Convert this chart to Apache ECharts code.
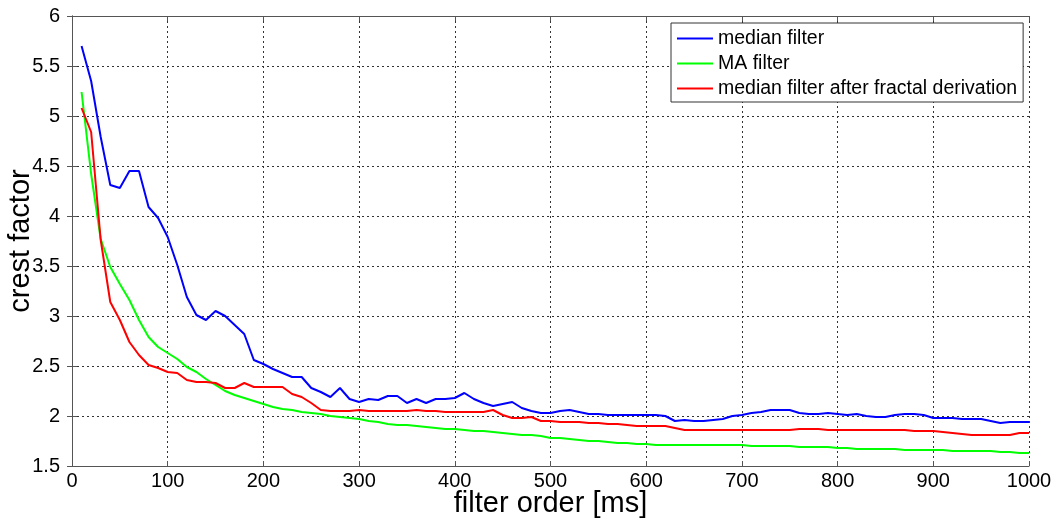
<!DOCTYPE html>
<html>
<head>
<meta charset="utf-8">
<script src="https://cdn.jsdelivr.net/npm/echarts@6/dist/echarts.min.js"></script>
<style>
  html, body { margin: 0; padding: 0; background: #fff; }
  #chart { width: 1056px; height: 521px; }
</style>
</head>
<body>
<div id="chart"></div>
<script>
// filter order in ms, sampled every 10 ms from 10 to 1000
var filterOrder = [];
for (var k = 10; k <= 1000; k += 10) filterOrder.push(k);

var seriesNames = ['median filter', 'MA filter', 'median filter after fractal derivation'];

// crest factor
var medianFilter = [
  5.70, 5.35, 4.79, 4.31, 4.28, 4.45, 4.45, 4.09, 3.98, 3.79,
  3.51, 3.19, 3.01, 2.96, 3.05, 3.00, 2.91, 2.82, 2.56, 2.52,
  2.47, 2.43, 2.39, 2.39, 2.28, 2.24, 2.19, 2.28, 2.17, 2.14,
  2.17, 2.16, 2.20, 2.20, 2.13, 2.17, 2.13, 2.17, 2.17, 2.18,
  2.23, 2.17, 2.13, 2.10, 2.12, 2.14, 2.08, 2.05, 2.03, 2.03,
  2.05, 2.06, 2.04, 2.02, 2.02, 2.01, 2.01, 2.01, 2.01, 2.01,
  2.01, 2.00, 1.95, 1.96, 1.95, 1.95, 1.96, 1.97, 2.00, 2.01,
  2.03, 2.04, 2.06, 2.06, 2.06, 2.03, 2.02, 2.02, 2.03, 2.02,
  2.01, 2.02, 2.00, 1.99, 1.99, 2.01, 2.02, 2.02, 2.01, 1.98,
  1.98, 1.98, 1.97, 1.97, 1.97, 1.95, 1.93, 1.94, 1.94, 1.94
];
var maFilter = [
  5.24, 4.42, 3.77, 3.49, 3.32, 3.16, 2.96, 2.79, 2.69, 2.63,
  2.57, 2.49, 2.44, 2.37, 2.31, 2.25, 2.21, 2.18, 2.15, 2.12,
  2.09, 2.07, 2.06, 2.04, 2.03, 2.02, 2.00, 1.99, 1.98, 1.97,
  1.95, 1.94, 1.92, 1.91, 1.91, 1.90, 1.89, 1.88, 1.87, 1.87,
  1.86, 1.85, 1.85, 1.84, 1.83, 1.82, 1.81, 1.81, 1.80, 1.78,
  1.78, 1.77, 1.76, 1.75, 1.75, 1.74, 1.73, 1.73, 1.72, 1.72,
  1.71, 1.71, 1.71, 1.71, 1.71, 1.71, 1.71, 1.71, 1.71, 1.71,
  1.70, 1.70, 1.70, 1.70, 1.70, 1.69, 1.69, 1.69, 1.69, 1.68,
  1.68, 1.67, 1.67, 1.67, 1.67, 1.67, 1.66, 1.66, 1.66, 1.66,
  1.66, 1.65, 1.65, 1.65, 1.65, 1.65, 1.64, 1.64, 1.63, 1.63
];
var fractalMedian = [
  5.08, 4.84, 3.76, 3.14, 2.96, 2.74, 2.61, 2.51, 2.48, 2.44,
  2.43, 2.36, 2.34, 2.34, 2.33, 2.28, 2.28, 2.33, 2.29, 2.29,
  2.29, 2.29, 2.22, 2.19, 2.13, 2.06, 2.05, 2.05, 2.05, 2.06,
  2.05, 2.05, 2.05, 2.05, 2.05, 2.06, 2.05, 2.05, 2.04, 2.04,
  2.04, 2.04, 2.04, 2.06, 2.01, 1.98, 1.98, 1.99, 1.95, 1.95,
  1.94, 1.94, 1.94, 1.93, 1.93, 1.92, 1.92, 1.91, 1.90, 1.90,
  1.90, 1.90, 1.88, 1.86, 1.86, 1.86, 1.86, 1.86, 1.86, 1.86,
  1.86, 1.86, 1.86, 1.86, 1.86, 1.87, 1.87, 1.87, 1.86, 1.86,
  1.86, 1.86, 1.86, 1.86, 1.86, 1.86, 1.86, 1.85, 1.85, 1.85,
  1.84, 1.83, 1.82, 1.81, 1.81, 1.81, 1.81, 1.81, 1.83, 1.83
];

var lineColors = ['#0000ff', '#00ff00', '#ff0000'];

function pairs(vals) {
  return filterOrder.map(function (x, i) { return [x, vals[i]]; });
}

var font = '"Liberation Sans", Arial, sans-serif';
var dotted = { color: '#333', width: 1, type: [2, 3] };
var frame = { show: true, lineStyle: { color: '#555', width: 1 } };
var inTick = { show: true, inside: true, length: 5, lineStyle: { color: '#555' } };

var chart = echarts.init(document.getElementById('chart'));
chart.setOption({
  animation: false,
  backgroundColor: '#fff',
  grid: { left: 72, right: 27, top: 16, bottom: 55, containLabel: false, outerBoundsMode: 'none' },
  legend: {
    orient: 'vertical',
    left: 671, top: 23,
    data: seriesNames,
    icon: 'rect',
    itemWidth: 36, itemHeight: 2, itemGap: 0,
    padding: [3, 6, 1, 6],
    backgroundColor: '#fff',
    borderColor: '#333', borderWidth: 1,
    textStyle: { fontFamily: font, fontSize: 19.5, color: '#000', lineHeight: 25 }
  },
  xAxis: [{
    type: 'value', min: 0, max: 1000, interval: 100,
    name: 'filter order [ms]', nameLocation: 'middle', nameGap: 23, nameMoveOverlap: false,
    nameTextStyle: { fontFamily: font, fontSize: 29, color: '#000' },
    axisLine: frame, axisTick: inTick,
    axisLabel: { fontFamily: font, fontSize: 20, color: '#000', margin: 5,
      formatter: function (v) { return String(v); } },
    splitLine: { show: true, lineStyle: dotted }
  }, {
    type: 'value', position: 'top', min: 0, max: 1000, interval: 100,
    axisLine: frame, axisTick: inTick, axisLabel: { show: false }, splitLine: { show: false }
  }],
  yAxis: [{
    type: 'value', min: 1.5, max: 6, interval: 0.5,
    name: 'crest factor', nameLocation: 'middle', nameGap: 37, nameMoveOverlap: false,
    nameTextStyle: { fontFamily: font, fontSize: 29, color: '#000' },
    axisLine: frame, axisTick: inTick,
    axisLabel: { fontFamily: font, fontSize: 20, color: '#000', margin: 12 },
    splitLine: { show: true, lineStyle: dotted }
  }, {
    type: 'value', position: 'right', min: 1.5, max: 6, interval: 0.5,
    axisLine: frame, axisTick: inTick, axisLabel: { show: false }, splitLine: { show: false }
  }],
  series: [
    { name: seriesNames[0], type: 'line', data: pairs(medianFilter), showSymbol: false,
      color: lineColors[0], lineStyle: { width: 2 } },
    { name: seriesNames[1], type: 'line', data: pairs(maFilter), showSymbol: false,
      color: lineColors[1], lineStyle: { width: 2 } },
    { name: seriesNames[2], type: 'line', data: pairs(fractalMedian), showSymbol: false,
      color: lineColors[2], lineStyle: { width: 2 } }
  ]
});
</script>
</body>
</html>
